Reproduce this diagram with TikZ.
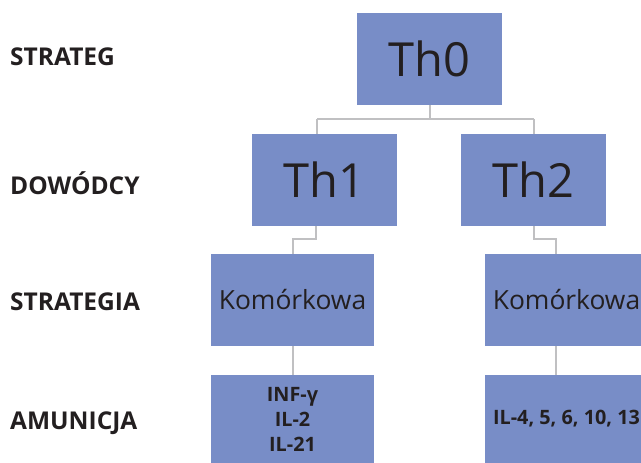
\documentclass[tikz,border=0pt]{standalone}
\usepackage{fontspec}
\setmainfont{Open Sans}
\begin{document}
\begin{tikzpicture}[x=1pt,y=-1pt,
  box/.style={fill=boxblue,draw=none,inner sep=0pt,minimum width=145pt,minimum height=92pt,text=txt,align=center},
  sbox/.style={fill=boxblue,draw=none,inner sep=0pt,minimum width=163pt,minimum height=92pt,text=txt,align=center},
  conn/.style={draw=linegray,line width=2pt},
  lvl/.style={anchor=west,inner sep=0pt,text=txt,font=\fontsize{24.5}{28}\selectfont\bfseries}
]
\definecolor{boxblue}{RGB}{120,141,199}
\definecolor{linegray}{RGB}{192,192,194}
\definecolor{txt}{RGB}{35,31,32}
\useasboundingbox (0,0) rectangle (641,463);
% nodes
\node[box,font=\fontsize{47}{52}\selectfont] (th0) at (429.5,59) {Th0};
\node[box,font=\fontsize{47}{52}\selectfont] (th1) at (324.5,180) {Th1};
\node[box,font=\fontsize{47}{52}\selectfont] (th2) at (533.5,180) {Th2};
\node[sbox,font=\fontsize{26.4}{30}\selectfont] (k1) at (292.5,300) {Komórkowa};
\node[sbox,font=\fontsize{26.4}{30}\selectfont] (k2) at (566.5,300) {Komórkowa};
\node[sbox,minimum height=88pt,font=\fontsize{19.8}{25}\selectfont\bfseries] (a1) at (292.5,419) {INF-γ\\IL-2\\IL-21};
\node[sbox,minimum height=88pt,font=\fontsize{19.8}{25}\selectfont\bfseries] (a2) at (566.5,419) {IL-4, 5, 6, 10, 13};
% level labels
\node[lvl] (l1) at (10,57) {STRATEG};
\node[lvl] (l2) at (10,183) {DOWÓDCY};
\node[lvl] (l3) at (10,302) {STRATEGIA};
\node[lvl] (l4) at (10,423) {AMUNICJA};
% junction coordinates
\coordinate (j0) at (429.5,119);
\coordinate (j1) at (317,119);
\coordinate (j2) at (534,119);
\coordinate (m1) at (316,239);
\coordinate (n1) at (292.5,239);
\coordinate (m2) at (534,239);
\coordinate (n2) at (556,239);
% connectors
\draw[conn] (th0.south) -- (j0);
\draw[conn] (j1) -- (j2);
\draw[conn] (j1) -- (j1 |- th1.north);
\draw[conn] (j2) -- (j2 |- th2.north);
\draw[conn] (m1 |- th1.south) -- (m1) -- (n1) -- (n1 |- k1.north);
\draw[conn] (m2 |- th2.south) -- (m2) -- (n2) -- (n2 |- k2.north);
\draw[conn] (k1.south) -- (a1.north);
\draw[conn] (n2 |- k2.south) -- (n2 |- a2.north);
\end{tikzpicture}
\end{document}
